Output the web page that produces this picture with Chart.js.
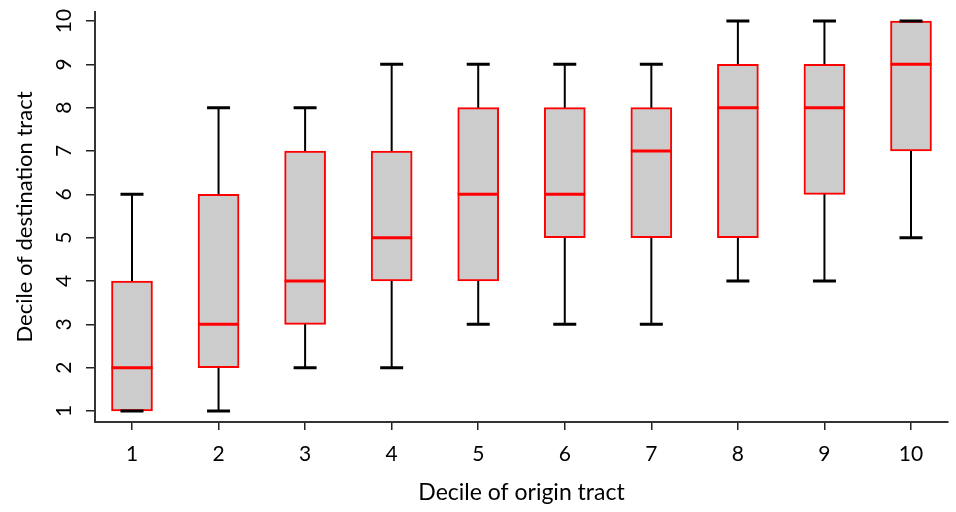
<!DOCTYPE html>
<html>
<head>
<meta charset="utf-8">
<script src="https://cdn.jsdelivr.net/npm/chart.js@4.4.1/dist/chart.umd.min.js"></script>
<style>
  html, body { margin: 0; padding: 0; background: #fff; }
  #wrap { width: 956px; height: 512px; }
</style>
</head>
<body>
<div id="wrap"><canvas id="myChart" width="956" height="512"></canvas></div>
<script>
// decile of origin tract
const categories = [1, 2, 3, 4, 5, 6, 7, 8, 9, 10];
// box plot stats per origin decile (destination decile)
const whiskerLow  = [1, 1, 2, 2, 3, 3, 3, 4, 4, 5];
const quart1      = [1, 2, 3, 4, 4, 5, 5, 5, 6, 7];
const medians     = [2, 3, 4, 5, 6, 6, 7, 8, 8, 9];
const quart3      = [4, 6, 7, 7, 8, 8, 8, 9, 9, 10];
const whiskerHigh = [6, 8, 8, 9, 9, 9, 9, 10, 10, 10];
const yTicks = [1, 2, 3, 4, 5, 6, 7, 8, 9, 10];

const FONT = 'Lato, "Open Sans", sans-serif';

// whiskers, caps and medians drawn with the chart scales
const boxExtras = {
    id: 'boxExtras',
    afterDatasetsDraw(chart) {
        const ctx = chart.ctx;
        const xs = chart.scales.x, ys = chart.scales.y;
        const boxW = 41, capW = 23;
        ctx.save();
        for (let i = 0; i < categories.length; i++) {
            const x = xs.getPixelForValue(categories[i]);
            // whiskers
            ctx.strokeStyle = '#000';
            ctx.lineWidth = 2;
            ctx.beginPath();
            ctx.moveTo(x, ys.getPixelForValue(quart3[i]));
            ctx.lineTo(x, ys.getPixelForValue(whiskerHigh[i]));
            ctx.moveTo(x, ys.getPixelForValue(quart1[i]));
            ctx.lineTo(x, ys.getPixelForValue(whiskerLow[i]));
            ctx.stroke();
            ctx.lineWidth = 3;
            ctx.beginPath();
            const yh = ys.getPixelForValue(whiskerHigh[i]);
            const yl = ys.getPixelForValue(whiskerLow[i]);
            ctx.moveTo(x - capW / 2, yh); ctx.lineTo(x + capW / 2, yh);
            ctx.moveTo(x - capW / 2, yl); ctx.lineTo(x + capW / 2, yl);
            ctx.stroke();
            // median
            ctx.strokeStyle = '#ff0000';
            ctx.lineWidth = 3;
            ctx.beginPath();
            const ym = ys.getPixelForValue(medians[i]);
            ctx.moveTo(x - boxW / 2, ym); ctx.lineTo(x + boxW / 2, ym);
            ctx.stroke();
        }
        // rotated y tick labels
        ctx.fillStyle = '#000';
        ctx.font = '21px ' + FONT;
        ctx.textAlign = 'center';
        ctx.textBaseline = 'middle';
        for (const v of yTicks) {
            const y = ys.getPixelForValue(v);
            ctx.save();
            ctx.translate(64, y);
            ctx.rotate(-Math.PI / 2);
            ctx.fillText(String(v), 0, 0);
            ctx.restore();
        }
        ctx.restore();
    }
};

const config = {
    type: 'bar',
    data: {
        datasets: [{
            data: categories.map((c, i) => ({x: c, y: [quart1[i], quart3[i]]})),
            backgroundColor: '#cccccc',
            borderColor: '#ff0000',
            borderWidth: 2,
            borderSkipped: false,
            barThickness: 41
        }]
    },
    options: {
        responsive: false,
        animation: false,
        layout: { padding: { top: 12, right: 8, left: 0, bottom: 0 } },
        plugins: {
            legend: { display: false },
            tooltip: { enabled: false }
        },
        scales: {
            x: {
                type: 'linear',
                offset: false,
                min: 0.5726,
                max: 10.4275,
                afterFit: (s) => { s.height = 90; },
                afterBuildTicks: (s) => { s.ticks = categories.map(v => ({value: v})); },
                grid: { offset: false, drawOnChartArea: false, drawTicks: true, tickLength: 8, color: '#222', lineWidth: 1.5 },
                border: { display: true, color: '#333', width: 2 },
                ticks: { color: '#000', padding: 12, font: { size: 21, family: FONT }, maxRotation: 0 },
                title: { display: true, text: 'Decile of origin tract', color: '#000',
                         font: { size: 23, family: FONT }, padding: { top: 0, bottom: 6 } }
            },
            y: {
                type: 'linear',
                min: 0.746,
                max: 10.208,
                afterFit: (s) => { s.width = 95; },
                afterBuildTicks: (s) => { s.ticks = yTicks.map(v => ({value: v})); },
                grid: { drawOnChartArea: false, drawTicks: true, tickLength: 9, color: '#222', lineWidth: 1.5 },
                border: { display: true, color: '#333', width: 2 },
                ticks: { display: false },
                title: { display: true, text: 'Decile of destination tract', color: '#000',
                         font: { size: 22, family: FONT }, padding: { top: 12, bottom: 0 } }
            }
        }
    },
    plugins: [boxExtras]
};

const ctx = document.getElementById('myChart').getContext('2d');
new Chart(ctx, config);
</script>
</body>
</html>
